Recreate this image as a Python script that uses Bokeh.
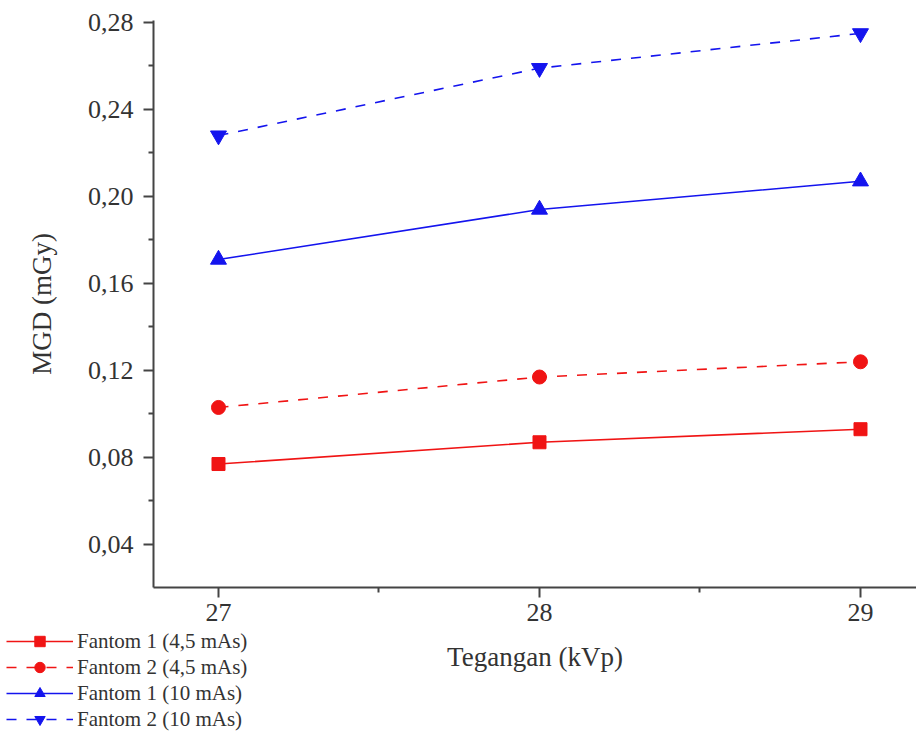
from bokeh.plotting import figure
from bokeh.models import FixedTicker, Range1d, Legend
from bokeh.embed import file_html
from bokeh.resources import INLINE

kvp = [27, 28, 29]
f1_45 = [0.077, 0.087, 0.093]
f2_45 = [0.103, 0.117, 0.124]
f1_10 = [0.171, 0.194, 0.207]
f2_10 = [0.228, 0.259, 0.275]

y_ticks = [0.04, 0.08, 0.12, 0.16, 0.20, 0.24, 0.28]
y_labels = ["0,04", "0,08", "0,12", "0,16", "0,20", "0,24", "0,28"]
x_ticks = [27, 28, 29]
labels = ["Fantom 1 (4,5 mAs)", "Fantom 2 (4,5 mAs)", "Fantom 1 (10 mAs)", "Fantom 2 (10 mAs)"]

RED = "#f01414"
BLUE = "#1414ee"
FONT = "Liberation Serif"

# axis extents (data units)
X_MIN, X_MAX = 26.7975, 29.1745
Y_MIN, Y_MAX = 0.0202, 0.2809

p = figure(width=916, height=734, output_backend="svg", toolbar_location=None,
           x_range=Range1d(26.3209, 29.1745), y_range=Range1d(-0.04736, 0.29011),
           min_border_left=0, min_border_top=0, min_border_bottom=0, min_border_right=0)
p.outline_line_color = None
p.grid.visible = False
p.background_fill_color = "white"

items = []
series = [
    (f1_45, RED, "solid", "square", 13),
    (f2_45, RED, "10 10", "circle", 14),
    (f1_10, BLUE, "solid", "triangle", 16),
    (f2_10, BLUE, "10 10", "inverted_triangle", 16),
]
for (vals, col, dash, mk, sz), lab in zip(series, labels):
    l = p.line(kvp, vals, line_color=col, line_width=1.6, line_dash=dash)
    s = p.scatter(kvp, vals, marker=mk, size=sz, fill_color=col, line_color=col)
    items.append((lab, [l, s]))

legend = Legend(items=items, location=(6, 2), border_line_color=None,
                background_fill_alpha=0, label_text_font=FONT, label_text_font_size="21px",
                label_text_color="#333333", glyph_width=67, glyph_height=26, label_height=26,
                spacing=0, padding=2, margin=0, label_standoff=4)
p.add_layout(legend, "center")

p.xaxis.ticker = FixedTicker(ticks=x_ticks, minor_ticks=[27.5, 28.5])
p.yaxis.ticker = FixedTicker(ticks=y_ticks, minor_ticks=[0.06, 0.10, 0.14, 0.18, 0.22, 0.26])
p.yaxis.major_label_overrides = {t: l for t, l in zip(y_ticks, y_labels)}
p.xaxis.fixed_location = Y_MIN
p.yaxis.fixed_location = X_MIN
p.xaxis.bounds = (X_MIN, X_MAX)
p.yaxis.bounds = (Y_MIN, Y_MAX)

for ax in (p.xaxis, p.yaxis):
    ax.axis_line_color = "#444444"
    ax.axis_line_width = 2
    ax.major_tick_line_color = "#444444"
    ax.minor_tick_line_color = "#444444"
    ax.major_tick_line_width = 2
    ax.minor_tick_line_width = 2
    ax.major_tick_in = 0
    ax.major_tick_out = 10
    ax.minor_tick_in = 0
    ax.minor_tick_out = 5
    ax.major_label_text_font = FONT
    ax.major_label_text_font_size = "26px"
    ax.major_label_text_color = "#333333"
    ax.axis_label_text_font = FONT
    ax.axis_label_text_font_size = "27px"
    ax.axis_label_text_font_style = "normal"
    ax.axis_label_text_color = "#333333"

p.xaxis.axis_label = "Tegangan (kVp)"
p.yaxis.axis_label = "MGD (mGy)"
p.xaxis.major_label_standoff = 6
p.xaxis.axis_label_standoff = 18
p.yaxis.major_label_standoff = 10
p.yaxis.axis_label_standoff = 28

open("out.html", "w").write(file_html(p, INLINE))
